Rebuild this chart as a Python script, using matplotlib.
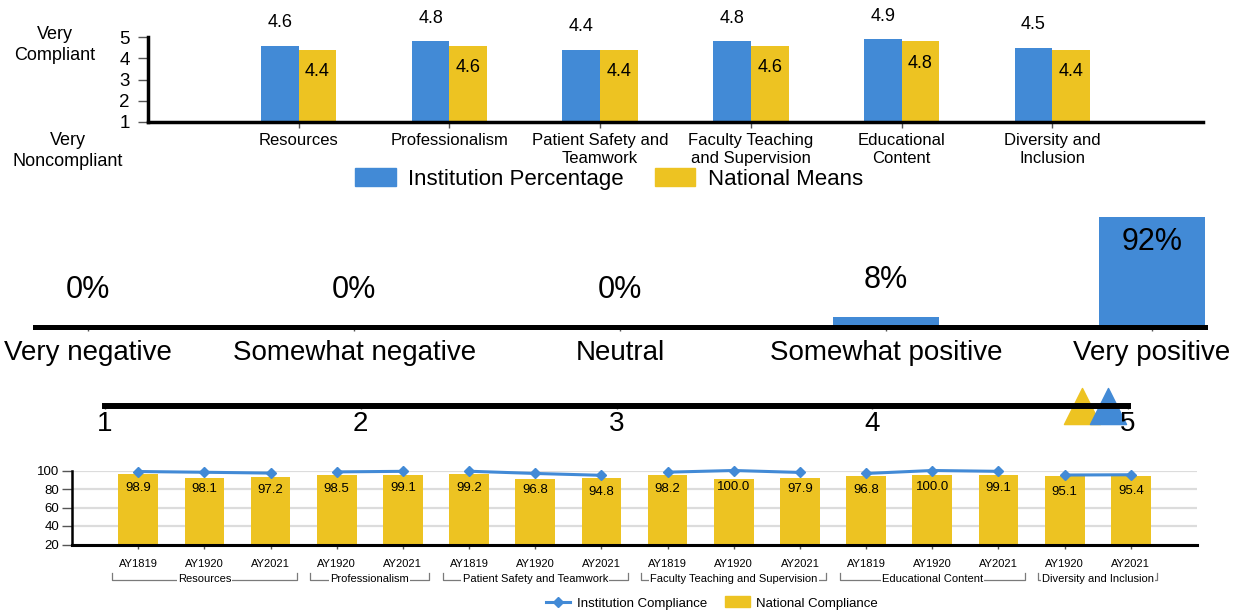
import matplotlib
matplotlib.use('Agg')
import matplotlib.pyplot as plt
from matplotlib.lines import Line2D
from matplotlib.patches import Patch
import numpy as np

plt.rcParams['font.family'] = ['Liberation Sans', 'DejaVu Sans']

BLUE = '#428ad6'
YELLOW = '#edc322'

# ---------- Chart 1: domain means ----------
domain_labels = ['Resources', 'Professionalism', 'Patient Safety and\nTeamwork',
                 'Faculty Teaching\nand Supervision', 'Educational\nContent',
                 'Diversity and\nInclusion']
institution_means = [4.6, 4.8, 4.4, 4.8, 4.9, 4.5]
national_means = [4.4, 4.6, 4.4, 4.6, 4.8, 4.4]
scale_ticks = [1, 2, 3, 4, 5]

# ---------- Chart 2: overall evaluation ----------
rating_labels = ['Very negative', 'Somewhat negative', 'Neutral',
                 'Somewhat positive', 'Very positive']
rating_pct = [0, 0, 0, 8, 92]

# ---------- Chart 3: overall mean markers ----------
overall_national = 4.82
overall_institution = 4.92

# ---------- Chart 4: compliance by year ----------
year_labels = ['AY1819', 'AY1920', 'AY2021', 'AY1920', 'AY2021',
               'AY1819', 'AY1920', 'AY2021', 'AY1819', 'AY1920', 'AY2021',
               'AY1819', 'AY1920', 'AY2021', 'AY1920', 'AY2021']
group_names = ['Resources', 'Professionalism', 'Patient Safety and Teamwork',
               'Faculty Teaching and Supervision', 'Educational Content',
               'Diversity and Inclusion']
group_sizes = [3, 2, 3, 3, 3, 2]
institution_compliance = [98.9, 98.1, 97.2, 98.5, 99.1, 99.2, 96.8, 94.8,
                          98.2, 100.0, 97.9, 96.8, 100.0, 99.1, 95.1, 95.4]
national_compliance = [96.7, 92.0, 92.5, 94.9, 94.7, 96.0, 91.3, 91.8,
                       94.9, 91.0, 91.6, 93.8, 94.9, 94.9, 93.8, 93.8]

W, H = 1248, 612
fig = plt.figure(figsize=(W / 100, H / 100), dpi=100)


def px_axes(left, top, right, bottom):
    return fig.add_axes([left / W, 1 - bottom / H, (right - left) / W, (bottom - top) / H])


# ================= Chart 1 =================
ax1 = px_axes(148, 37, 1203, 122)
x1 = np.arange(1, len(domain_labels) + 1)
w = 0.25
ax1.bar(x1 - w / 2, institution_means, w, color=BLUE)
ax1.bar(x1 + w / 2, national_means, w, color=YELLOW)
for xi, v in zip(x1, institution_means):
    ax1.annotate(f'{v:.1f}', (xi - w / 2, v), xytext=(0, 16.5), textcoords='offset points',
                 ha='center', va='center', fontsize=13)
for xi, v in zip(x1, national_means):
    ax1.annotate(f'{v:.1f}', (xi + w / 2, v), xytext=(0, -16), textcoords='offset points',
                 ha='center', va='center', fontsize=13)
ax1.set_xlim(0, 7)
ax1.set_ylim(1, 5)
ax1.set_yticks(scale_ticks)
ax1.set_yticklabels([str(t) for t in scale_ticks], fontsize=13.5)
ax1.set_xticks(x1)
ax1.set_xticklabels(domain_labels, fontsize=12, linespacing=1.2)
ax1.tick_params(axis='y', length=7, width=1, color='#555555', pad=6)
ax1.tick_params(axis='x', length=4, width=1, color='#555555', pad=4)
for s in ['top', 'right']:
    ax1.spines[s].set_visible(False)
for s in ['left', 'bottom']:
    ax1.spines[s].set_linewidth(2.5)
    ax1.spines[s].set_color('black')

fig.text(55 / W, 1 - 45 / H, 'Very\nCompliant', ha='center', va='center', fontsize=13, linespacing=1.25)
fig.text(68 / W, 1 - 151 / H, 'Very\nNoncompliant', ha='center', va='center', fontsize=13, linespacing=1.35)

ax1.legend(handles=[Patch(color=BLUE), Patch(color=YELLOW)],
           labels=['Institution Percentage', 'National Means'], ncol=2, loc='center',
           bbox_to_anchor=(609 / W, 1 - 179 / H), bbox_transform=fig.transFigure,
           frameon=False, fontsize=16, handlelength=1.83, handleheight=0.83,
           handletextpad=0.55, columnspacing=1.4, borderpad=0, borderaxespad=0)

# ================= Chart 2 =================
ax2 = px_axes(35, 207, 1205, 327)
x2 = np.arange(len(rating_labels))
ax2.bar(x2, rating_pct, 0.4, color=BLUE)
ax2.set_xlim(-0.2, 4.2)
ax2.set_ylim(0, 100)
for xi, v in zip(x2, rating_pct):
    if v > 50:
        off = -18.5
    else:
        off = 27
    ax2.annotate(f'{v}%', (xi, v), xytext=(0, off), textcoords='offset points',
                 ha='center', va='center', fontsize=22)
ax2.set_xticks(x2)
ax2.set_xticklabels(rating_labels, fontsize=20)
ax2.set_yticks([])
ax2.tick_params(axis='x', length=3, width=1, color='#555555', pad=6)
for s in ['top', 'right', 'left']:
    ax2.spines[s].set_visible(False)
ax2.spines['bottom'].set_linewidth(3.6)
ax2.spines['bottom'].set_color('black')
ax2.patch.set_visible(False)

# ================= Chart 3 =================
ax3 = px_axes(105, 386, 1128, 426)
ax3.set_xlim(1, 5)
ax3.set_ylim(-1, 1)
ax3.scatter([overall_national], [0], marker='^', s=26 ** 2, color=YELLOW, clip_on=False, zorder=1)
ax3.scatter([overall_institution], [0], marker='^', s=26 ** 2, color=BLUE, clip_on=False, zorder=1.2)
for s in ['top', 'right', 'left']:
    ax3.spines[s].set_visible(False)
ax3.spines['bottom'].set_position(('data', 0))
ax3.spines['bottom'].set_linewidth(4.3)
ax3.spines['bottom'].set_color('black')
ax3.set_xticks(scale_ticks)
ax3.set_xticklabels([str(t) for t in scale_ticks], fontsize=20)
ax3.set_yticks([])
ax3.tick_params(axis='x', length=2, width=1, color='#555555', pad=1.5)
ax3.patch.set_visible(False)

# ================= Chart 4 =================
ax4 = px_axes(72, 470.5, 1197, 544.5)
x4 = np.arange(len(year_labels))
ax4.bar(x4, national_compliance, 0.6, color=YELLOW, zorder=2)
ax4.set_xlim(-1, len(year_labels))
ax4.set_ylim(20, 100)
ax4.set_yticks([20, 40, 60, 80, 100])
ax4.set_yticklabels(['20', '40', '60', '80', '100'], fontsize=9.5)
ax4.yaxis.grid(True, color='#dcdcdc', linewidth=1.6, zorder=0)
ax4.set_axisbelow(True)
start = 0
for size in group_sizes:
    xs = x4[start:start + size]
    ys = institution_compliance[start:start + size]
    ax4.plot(xs, ys, color=BLUE, lw=2.2, marker='D', ms=5.5, clip_on=False, zorder=3)
    start += size
for xi, v in zip(x4, institution_compliance):
    ax4.annotate(f'{v:.1f}', (xi, v), xytext=(0, -12), textcoords='offset points',
                 ha='center', va='center', fontsize=9.5, zorder=4)
ax4.set_xticks(x4)
ax4.set_xticklabels(year_labels, fontsize=8)
ax4.tick_params(axis='x', length=3, width=1, color='#555555', pad=7.5)
ax4.tick_params(axis='y', length=7, width=1, color='#555555', pad=2)
for s in ['top', 'right']:
    ax4.spines[s].set_visible(False)
ax4.spines['left'].set_linewidth(1.8)
ax4.spines['bottom'].set_linewidth(2.2)

trans = ax4.get_xaxis_transform()
y_line = -(579.5 - 544.5) / 74
y_tick = -(572.5 - 544.5) / 74
start = 0
for name, size in zip(group_names, group_sizes):
    x0 = x4[start] - 0.4
    x1g = x4[start + size - 1] + 0.4
    ax4.plot([x0, x0, x1g, x1g], [y_tick, y_line, y_line, y_tick], color='#7a7a7a', lw=0.9,
             transform=trans, clip_on=False)
    ax4.text((x0 + x1g) / 2, y_line, name, transform=trans, ha='center', va='center', fontsize=8,
             bbox=dict(facecolor='white', edgecolor='none', pad=0.8))
    start += size

ax4.legend(handles=[Line2D([], [], color=BLUE, lw=2.2, marker='D', ms=5.5), Patch(color=YELLOW)],
           labels=['Institution Compliance', 'National Compliance'], ncol=2, loc='center',
           bbox_to_anchor=(712 / W, 1 - 603 / H), bbox_transform=fig.transFigure,
           frameon=False, fontsize=9.5, handlelength=1.85, handleheight=0.9,
           handletextpad=0.5, columnspacing=1.4, borderpad=0, borderaxespad=0)

fig.savefig('out.png', dpi=100)
